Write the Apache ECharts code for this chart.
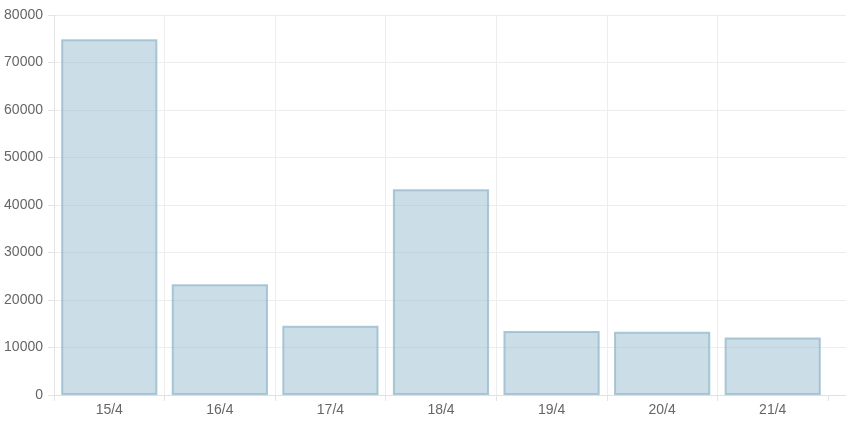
<!DOCTYPE html>
<html>
<head>
<meta charset="utf-8">
<script src="https://cdn.jsdelivr.net/npm/echarts@6/dist/echarts.min.js"></script>
<style>html,body{margin:0;padding:0;background:#fff}#c{width:846px;height:422px}</style>
</head>
<body>
<div id="c"></div>
<script>
const categories = ['15/4','16/4','17/4','18/4','19/4','20/4','21/4'];
const values = [74900, 23300, 14600, 43300, 13500, 13300, 12100];
const yMin = 0, yMax = 80000, yStep = 10000;

const chart = echarts.init(document.getElementById('c'), null, {renderer:'canvas'});
const g = '#ededed';
chart.setOption({
  animation:false,
  grid:[{left:54, right:18, top:15, bottom:27}, {left:54, right:0, top:15, bottom:27}],
  xAxis:[{
    type:'category', data:categories, gridIndex:0, boundaryGap:true,
    axisLine:{show:false},
    axisTick:{show:true, interval:0, length:6, lineStyle:{color:['#e3e3e3','#e3e3e3','#e3e3e3','#e3e3e3','#e3e3e3','#e3e3e3','#e3e3e3','rgba(0,0,0,0)']}},
    splitLine:{show:true, interval:0, lineStyle:{color:[g,g,g,g,g,g,g,'rgba(0,0,0,0)']}},
    axisLabel:{color:'#666', fontSize:14, fontFamily:'Liberation Sans, Arial', margin:8, interval:0}
  },{
    type:'value', gridIndex:1, min:0, max:1, show:true,
    axisLine:{show:true, onZero:false, lineStyle:{color:'#e0e0e0'}},
    axisTick:{show:false}, axisLabel:{show:false}, splitLine:{show:false}
  }],
  yAxis:[{
    type:'value', gridIndex:0, min:yMin, max:yMax, interval:yStep,
    axisLine:{show:true, lineStyle:{color:'#e3e3e3'}},
    axisTick:{show:true, length:6, lineStyle:{color:'#e3e3e3'}},
    splitLine:{show:false},
    axisLabel:{color:'#666', fontSize:14, fontFamily:'Liberation Sans, Arial', margin:11, formatter:v => String(v)}
  },{
    type:'value', gridIndex:1, min:yMin, max:yMax, interval:yStep,
    axisLine:{show:false}, axisTick:{show:false}, axisLabel:{show:false},
    splitLine:{show:true, lineStyle:{color:g}}
  }],
  series:[{
    type:'bar', data:values, xAxisIndex:0, yAxisIndex:0,
    barCategoryGap:'13%',
    itemStyle:{color:'rgba(151,187,205,0.5)', borderColor:'rgba(151,187,205,0.8)', borderWidth:2}
  }]
});
</script>
</body>
</html>
